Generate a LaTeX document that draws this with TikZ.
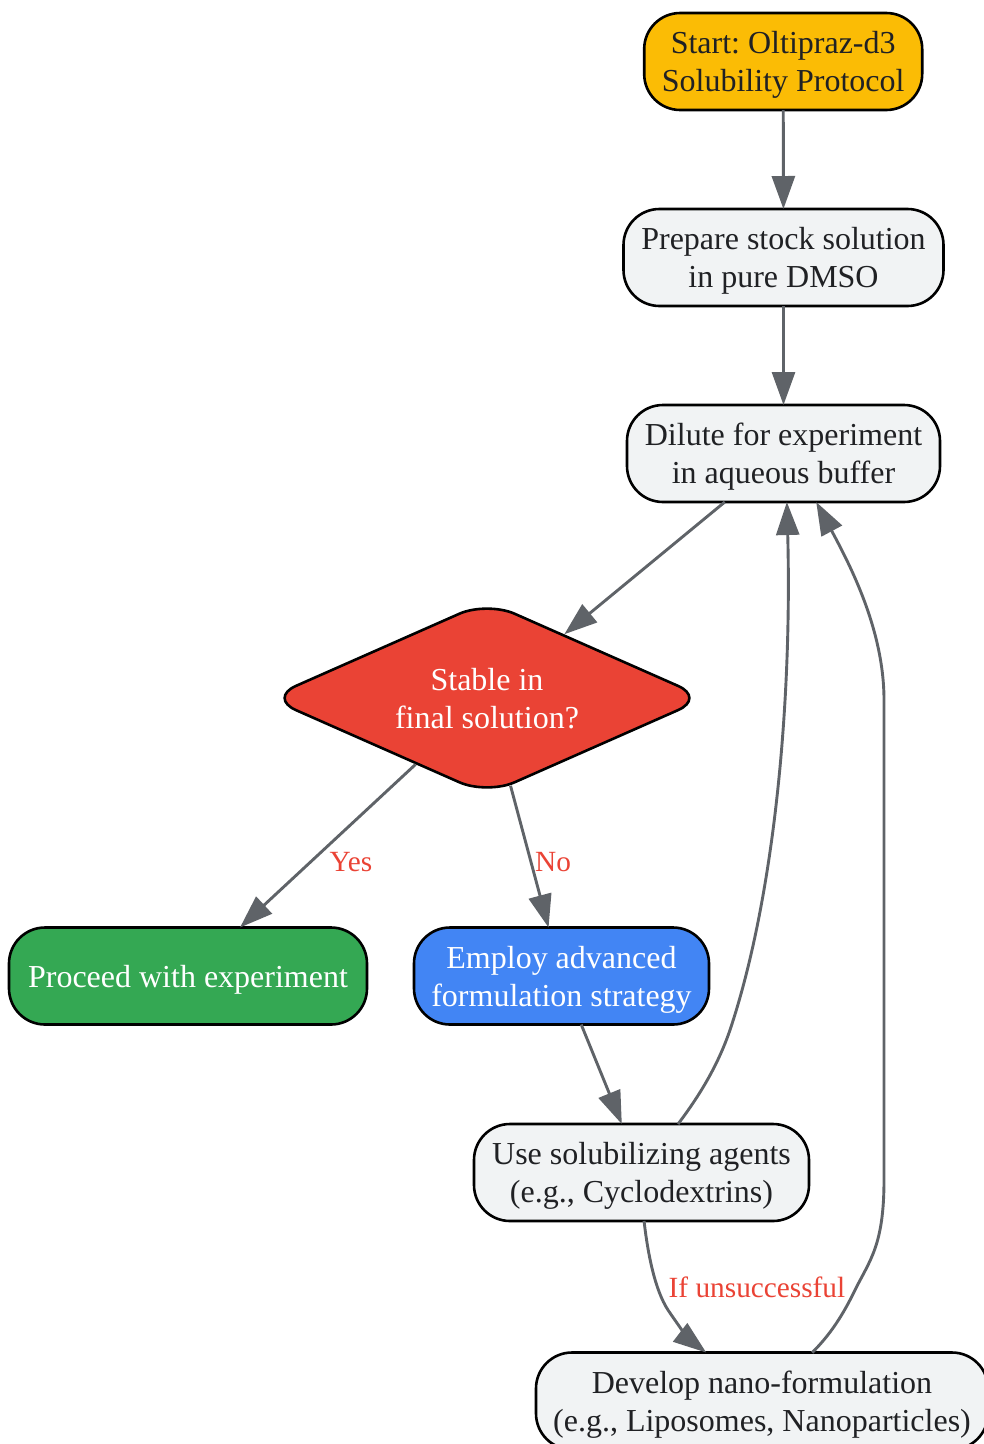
\documentclass[tikz,border=0pt]{standalone}
\usepackage{fontspec}
\setmainfont{Liberation Serif}
\usepackage{xcolor}
\usetikzlibrary{shapes.geometric,arrows.meta,positioning,calc}
\definecolor{startyellow}{HTML}{FBBC05}
\definecolor{stepgray}{HTML}{F1F3F4}
\definecolor{checkred}{HTML}{EA4335}
\definecolor{okgreen}{HTML}{34A853}
\definecolor{planblue}{HTML}{4285F4}
\definecolor{edgegray}{HTML}{5F6368}
\definecolor{textdark}{HTML}{202124}
\tikzset{
    stepbox/.style={draw=black, line width=2.6pt, rounded corners=36pt, align=center, inner sep=0pt, outer sep=0pt,
        minimum height=97pt, text depth=0pt, text=textdark, fill=stepgray,
        font=\fontsize{32}{38}\selectfont\frenchspacing},
    checkbox/.style={draw=black, line width=2.6pt, diamond, rounded corners=30pt, align=center, inner sep=0pt,
        aspect=2.265, minimum width=438pt, minimum height=194pt, text depth=0pt, text=white, fill=checkred,
        font=\fontsize{32}{38}\selectfont\frenchspacing},
    flow/.style={draw=edgegray, line width=2.9pt, -{Triangle[length=33pt,width=23pt]}},
    flowlabel/.style={text=checkred, inner sep=0pt, font=\fontsize{29.3}{35}\selectfont}
}
\begin{document}
\begin{tikzpicture}[x=1pt,y=-1pt]
    \useasboundingbox (0,0) rectangle (984,1444);

    % Main steps
    \node[stepbox, fill=startyellow, minimum width=278pt] (start) at (783.2,61.5) {Start: Oltipraz-d3\\Solubility Protocol};
    \node[stepbox, minimum width=320pt] (stock) at (783.5,257.5) {Prepare stock solution\\in pure DMSO};
    \node[stepbox, minimum width=313pt] (dilute) at (783.5,453.5) {Dilute for experiment\\in aqueous buffer};

    % Decision
    \node[checkbox] (stable) at (487,698) {Stable in\\final solution?};

    % Outcomes
    \node[stepbox, fill=okgreen, text=white, minimum width=358pt] (proceed) at (188,976) {Proceed with experiment};
    \node[stepbox, fill=planblue, text=white, minimum width=295pt] (employ) at (561.5,976) {Employ advanced\\formulation strategy};
    \node[stepbox, minimum width=335pt] (agents) at (641.5,1172.5) {Use solubilizing agents\\(e.g., Cyclodextrins)};
    \node[stepbox, minimum width=452pt] (nano) at (762,1401) {Develop nano-formulation\\(e.g., Liposomes, Nanoparticles)};

    % Straight arrows
    \draw[flow] (start) -- (stock);
    \draw[flow] (stock) -- (dilute);
    \draw[flow] (dilute) -- (stable);
    \draw[flow] (stable) -- (proceed);
    \draw[flow] (stable) -- (employ);
    \draw[flow] (employ) -- (agents);

    % Curved arrows
    \draw[flow] (agents.53) .. controls (700,1095) and (718,1065) .. (730,1030)
        .. controls (775,895) and (792,700) .. (dilute.-86);
    \draw[flow] (agents.-87) .. controls (648,1255) and (655,1290) .. (668,1310)
        .. controls (678,1325) and (690,1340) .. (nano.139.7);
    \draw[flow] (nano.44) .. controls (830,1335) and (843,1315) .. (855,1290)
        .. controls (870,1260) and (884,1245) .. (884,1180)
        -- (884,700) .. controls (884,630) and (850,565) .. (dilute.-56.4);

    % Edge labels
    \node[flowlabel] (yes) at (351,862.5) {Yes};
    \node[flowlabel] (no) at (553,862.5) {No};
    \node[flowlabel] (retry) at (757,1287) {If unsuccessful};
\end{tikzpicture}
\end{document}
